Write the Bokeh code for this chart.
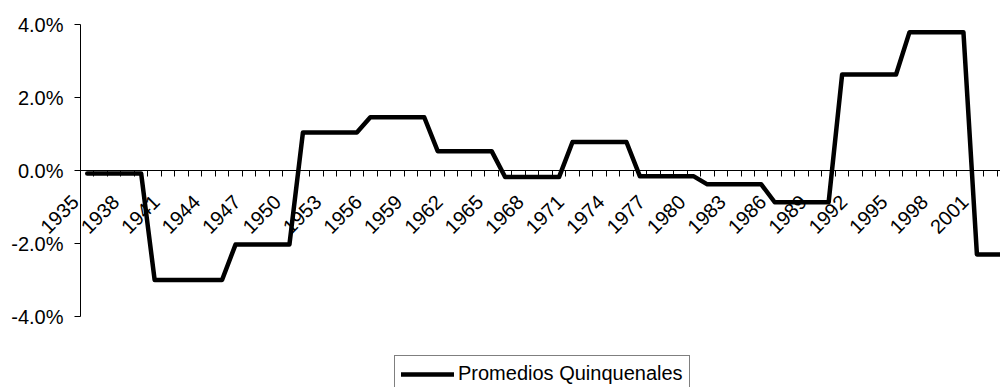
from math import pi

from bokeh.plotting import figure
from bokeh.core.properties import value
from bokeh.models import (ColumnDataSource, FixedTicker, LabelSet, Legend,
                          LegendItem, PrintfTickFormatter, Range1d)
from bokeh.embed import file_html
from bokeh.resources import INLINE

# Yearly series (percent), constant within each five-year period
years = [
    1935, 1936, 1937, 1938, 1939, 1940, 1941, 1942, 1943, 1944,
    1945, 1946, 1947, 1948, 1949, 1950, 1951, 1952, 1953, 1954,
    1955, 1956, 1957, 1958, 1959, 1960, 1961, 1962, 1963, 1964,
    1965, 1966, 1967, 1968, 1969, 1970, 1971, 1972, 1973, 1974,
    1975, 1976, 1977, 1978, 1979, 1980, 1981, 1982, 1983, 1984,
    1985, 1986, 1987, 1988, 1989, 1990, 1991, 1992, 1993, 1994,
    1995, 1996, 1997, 1998, 1999, 2000, 2001, 2002, 2003,
]
promedios = [
    -0.08, -0.08, -0.08, -0.08, -0.08, -3.00, -3.00, -3.00, -3.00, -3.00,
    -3.00, -2.03, -2.03, -2.03, -2.03, -2.03, 1.04, 1.04, 1.04, 1.04,
    1.04, 1.46, 1.46, 1.46, 1.46, 1.46, 0.53, 0.53, 0.53, 0.53,
    0.53, -0.18, -0.18, -0.18, -0.18, -0.18, 0.78, 0.78, 0.78, 0.78,
    0.78, -0.16, -0.16, -0.16, -0.16, -0.16, -0.38, -0.38, -0.38, -0.38,
    -0.38, -0.87, -0.87, -0.87, -0.87, -0.87, 2.63, 2.63, 2.63, 2.63,
    2.63, 3.79, 3.79, 3.79, 3.79, 3.79, -2.30, -2.30, -2.30,
]

# Category labels shown along the zero line
label_years = [1935, 1938, 1941, 1944, 1947, 1950, 1953, 1956, 1959, 1962,
               1965, 1968, 1971, 1974, 1977, 1980, 1983, 1986, 1989, 1992,
               1995, 1998, 2001]
y_ticks = [-4, -2, 0, 2, 4]

FONT = "Liberation Sans"
SIZE = "20px"

# Pixel geometry of the drawing area
PX_PER_YEAR = 13.48
PX_PER_PCT = 36.5
LEFT_PX, TOP_PX = 80, 24
W, H = 1000, 387

x0 = years[0] - 0.5
y_top = max(y_ticks)
x_range = Range1d(x0 - LEFT_PX / PX_PER_YEAR, x0 + (W - LEFT_PX) / PX_PER_YEAR)
y_range = Range1d(y_top - (H - TOP_PX) / PX_PER_PCT, y_top + TOP_PX / PX_PER_PCT)

p = figure(
    width=W, height=H,
    x_range=x_range, y_range=y_range,
    output_backend="svg", toolbar_location=None,
    min_border_left=0, min_border_right=0,
    min_border_top=0, min_border_bottom=0,
    outline_line_color=None,
    background_fill_color="white", border_fill_color="white",
)
p.xgrid.visible = False
p.ygrid.visible = False

# Category axis drawn along y = 0, with tick marks between categories
xa = p.xaxis[0]
xa.fixed_location = 0
xa.bounds = (x0, x_range.end + 1)
xa.ticker = FixedTicker(ticks=[y - 0.5 for y in years] + [years[-1] + 0.5],
                        minor_ticks=[])
xa.major_tick_out = 6
xa.major_tick_in = 0
xa.minor_tick_out = 0
xa.minor_tick_in = 0
xa.major_label_text_color = None
xa.axis_line_color = "black"
xa.major_tick_line_color = "black"
xa.axis_line_width = 1

# Value axis, crossing at the first category boundary
ya = p.yaxis[0]
ya.fixed_location = x0
ya.ticker = FixedTicker(ticks=y_ticks, minor_ticks=[])
ya.formatter = PrintfTickFormatter(format="%.1f%%")
ya.bounds = (min(y_ticks), max(y_ticks))
ya.major_tick_out = 6
ya.major_tick_in = 0
ya.minor_tick_out = 0
ya.minor_tick_in = 0
ya.axis_line_color = "black"
ya.major_tick_line_color = "black"
ya.major_label_standoff = 11
ya.major_label_text_font = FONT
ya.major_label_text_font_size = SIZE
ya.major_label_text_color = "black"

line = p.line(years, promedios, line_width=4.5, line_color="black",
              line_join="round", line_cap="round")

# Rotated year labels under the zero line
lbl_src = ColumnDataSource(dict(
    x=label_years,
    y=[0.0 for _ in label_years],
    text=[str(y) for y in label_years],
))
labels = LabelSet(
    x="x", y="y", text="text", source=lbl_src,
    angle=pi / 4, text_align="right", text_baseline="middle",
    x_offset=-12, y_offset=-28,
    text_font=value(FONT), text_font_size=value(SIZE), text_color="black",
)
p.add_layout(labels)

legend = Legend(
    items=[LegendItem(label="Promedios Quinquenales", renderers=[line])],
    location=(394, -5),
    orientation="vertical",
    border_line_color="black", border_line_width=1,
    background_fill_color="white", background_fill_alpha=1.0,
    padding=6, margin=0, spacing=0,
    glyph_width=53, glyph_height=20, label_height=20,
    label_standoff=4,
    label_text_font=FONT, label_text_font_size=SIZE,
    label_text_color="black",
)
p.add_layout(legend)

open("out.html", "w").write(file_html(p, INLINE))
